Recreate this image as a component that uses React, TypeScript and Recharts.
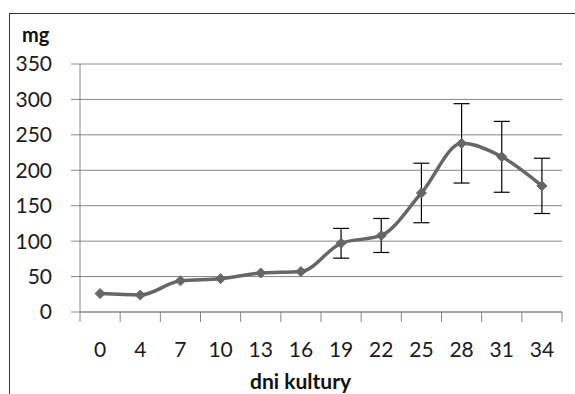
import { LineChart, Line, XAxis, YAxis, CartesianGrid, ErrorBar } from 'recharts'

const days = ['0', '4', '7', '10', '13', '16', '19', '22', '25', '28', '31', '34']
const mass = [26, 24, 44, 47, 55, 57, 97, 108, 168, 238, 219, 178]
const errors = [0, 0, 0, 0, 0, 0, 21, 24, 42, 56, 50, 39]
const yTicks = [0, 50, 100, 150, 200, 250, 300, 350]

const data = days.map((day, i) => ({ day, mg: mass[i], err: errors[i] }))

const FONT = 'Lato, "Open Sans", sans-serif'
const AXIS_GRAY = '#868686'
const LINE_GRAY = '#666666'

function Diamond(props: any) {
  const { cx, cy } = props
  if (cx == null || cy == null) return null
  const r = 5
  return (
    <polygon
      points={`${cx},${cy - r} ${cx + r},${cy} ${cx},${cy + r} ${cx - r},${cy}`}
      fill={LINE_GRAY}
      stroke={LINE_GRAY}
      strokeWidth={1}
    />
  )
}

// category ticks sit on the borders between categories, like in Excel
function DayTick(props: any) {
  const { x, y, payload, index, visibleTicksCount } = props
  const half = payload.offset ?? 0
  const last = index === visibleTicksCount - 1
  return (
    <g>
      <line x1={x - half} y1={y} x2={x - half} y2={y + 10} stroke={AXIS_GRAY} />
      {last && <line x1={x + half} y1={y} x2={x + half} y2={y + 10} stroke={AXIS_GRAY} />}
      <text x={x} y={y + 45} textAnchor="middle" fontSize={21} fontFamily={FONT} fill="#1a1a1a">
        {payload.value}
      </text>
    </g>
  )
}

export default function App() {
  return (
    <div style={{ position: 'absolute', left: 0, top: 0, width: 575, height: 394, background: '#fff', overflow: 'hidden' }}>
      <div
        style={{
          position: 'absolute',
          left: 9,
          top: 13,
          width: 600,
          height: 400,
          borderTop: '1.5px solid #333',
          borderLeft: '1.5px solid #333',
        }}
      />
      <div style={{ position: 'absolute', left: 22, top: 22, fontFamily: FONT, fontWeight: 700, fontSize: 20, color: '#111' }}>
        mg
      </div>
      <div style={{ position: 'absolute', left: 250, top: 368, fontFamily: FONT, fontWeight: 700, fontSize: 21, color: '#111' }}>
        dni kultury
      </div>
      <div style={{ position: 'absolute', left: 0, top: 0 }}>
        <LineChart width={575} height={394} data={data} margin={{ top: 64, right: 13, bottom: 32, left: 0 }}>
          <CartesianGrid vertical={false} stroke={AXIS_GRAY} strokeWidth={1} />
          <XAxis
            dataKey="day"
            scale="band"
            axisLine={{ stroke: AXIS_GRAY }}
            tickLine={false}
            tickSize={0}
            tickMargin={0}
            height={50}
            interval={0}
            tick={<DayTick />}
          />
          <YAxis
            domain={[0, 350]}
            ticks={yTicks}
            width={80}
            axisLine={{ stroke: AXIS_GRAY }}
            tickLine={{ stroke: AXIS_GRAY }}
            tickSize={9}
            tickMargin={19}
            tick={{ fontSize: 21, fontFamily: FONT, fill: '#1a1a1a' }}
          />
          <Line
            type="monotone"
            dataKey="mg"
            stroke={LINE_GRAY}
            strokeWidth={3.5}
            dot={<Diamond />}
            activeDot={false}
            isAnimationActive={false}
          >
            <ErrorBar dataKey="err" width={8} stroke="#000" strokeWidth={1.2} direction="y" />
          </Line>
        </LineChart>
      </div>
    </div>
  )
}
